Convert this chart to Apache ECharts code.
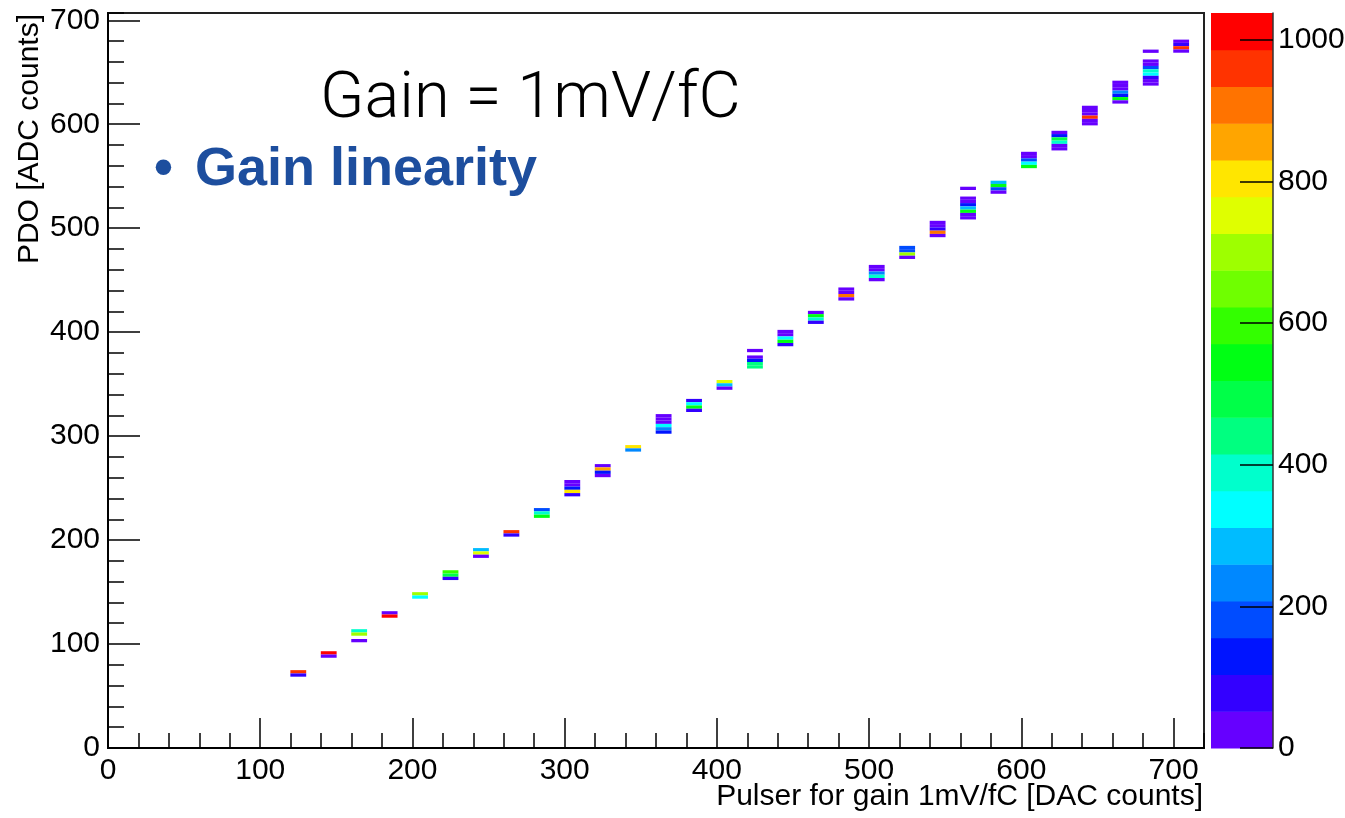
<!DOCTYPE html>
<html><head><meta charset="utf-8">
<script src="https://cdn.jsdelivr.net/npm/echarts@6/dist/echarts.min.js"></script>
<style>html,body{margin:0;padding:0;background:#fff}#chart{width:1345px;height:818px}</style>
</head><body><div id="chart"></div>
<script>
// ---- data ----
const X_CENTERS = [125,145,165,185,205,225,245,265,285,305,325,345,365,385,405,425,445,465,485,505,525,545,565,585,605,625,645,665,685,705];
// upper edge (ADC) of the topmost filled y-bin of each column
const COL_TOPS = [74.9,93.1,114.3,131.6,149.9,171.0,192.3,209.6,230.8,257.8,273.1,291.4,321.2,335.8,354.0,383.9,402.2,420.5,443.0,464.7,483.0,507.1,539.9,545.7,573.5,593.7,617.8,641.9,671.8,681.4];
// bin contents from top to bottom (0 = empty bin)
const COL_COUNTS = [
  [960,80],
  [1010,50],
  [390,700,0,25],
  [25,1010],
  [700,340],
  [600,500,60],
  [290,750,25],
  [960,80],
  [180,390,520],
  [25,25,130,800,80],
  [25,850,130,25],
  [800,230],
  [25,25,25,340,230,130],
  [80,340,540,80],
  [750,290,25],
  [25,0,25,130,440,440],
  [25,25,340,560,80],
  [25,540,380,80],
  [25,25,900,25],
  [25,25,230,390,25],
  [180,180,700,25],
  [25,25,80,910,25],
  [25,0,0,25,25,130,260,560,25,25],
  [290,540,180,25],
  [25,25,180,340,540],
  [25,130,500,390,25,25],
  [25,25,25,960,25,25],
  [25,25,25,230,130,560,25],
  [25,0,0,25,25,180,390,340,80,25,25],
  [25,80,960,25]
];
const Z_MAX = 1038;
const PALETTE = ['#6600ff','#3300ff','#0014ff','#004cff','#0088ff','#00bcff','#00ffff','#00ffcc','#00ff80','#00ff48',
                 '#00ff14','#33ff00','#6fff00','#9eff00','#dfff00','#ffe600','#ffa500','#ff7300','#ff3300','#ff0000'];
const TITLE_MAIN = 'Gain = 1mV/fC';
const TITLE_SUB = 'Gain linearity';
const X_NAME = 'Pulser for gain 1mV/fC [DAC counts]';
const Y_NAME = 'PDO [ADC counts]';

// ---- histogram binning ----
const BIN_H = 3.15, BIN_W = 10.4;
const cells = [];
X_CENTERS.forEach((x, i) => {
  COL_COUNTS[i].forEach((c, j) => {
    if (c > 0) cells.push([x, COL_TOPS[i] - (j + 1) * BIN_H, c]);
  });
});
const step = Z_MAX / PALETTE.length;
const bands = PALETTE.map((c, i) => [i * step, (i + 1) * step, (i + 0.5) * step]);
const pieces = PALETTE.map((c, i) => (i < PALETTE.length - 1 ? {gte: i * step, lt: (i + 1) * step, color: c} : {gte: i * step, color: c}));

const FONT = 'Liberation Sans, Arial, Helvetica, sans-serif';
const lbl = {fontSize: 30, fontFamily: FONT, color: '#000', formatter: v => String(v)};
const tickStyle = {color: '#000', width: 1.5};

const chart = echarts.init(document.getElementById('chart'), null, {renderer: 'canvas'});
chart.setOption({
  animation: false,
  backgroundColor: '#fff',
  grid: [
    {left: 108, top: 13, width: 1096, height: 735, containLabel: false, outerBoundsMode: 'none',
     show: true, borderColor: '#222', borderWidth: 2, backgroundColor: 'transparent'},
    {left: 1211, top: 13, width: 62, height: 735, containLabel: false, outerBoundsMode: 'none'}
  ],
  xAxis: [
    {gridIndex: 0, type: 'value', min: 0, max: 720, interval: 100, position: 'bottom',
     axisLine: {show: true, onZero: false, lineStyle: {color: '#000', width: 2}},
     axisTick: {show: true, inside: true, length: 30, lineStyle: tickStyle},
     axisLabel: Object.assign({margin: 8, showMaxLabel: false}, lbl), splitLine: {show: false}},
    {gridIndex: 0, type: 'value', min: 0, max: 720, interval: 20, position: 'bottom',
     axisLine: {show: false, onZero: false}, axisTick: {show: true, inside: true, length: 15, lineStyle: tickStyle},
     axisLabel: {show: false}, splitLine: {show: false}},
    {gridIndex: 1, type: 'value', min: 0, max: 1, show: false, axisLine: {onZero: false}}
  ],
  yAxis: [
    {gridIndex: 0, type: 'value', min: 0, max: 707, interval: 100, position: 'left',
     axisLine: {show: true, onZero: false, lineStyle: {color: '#000', width: 2}},
     axisTick: {show: true, inside: true, length: 32, lineStyle: tickStyle},
     axisLabel: Object.assign({margin: 8, showMaxLabel: false}, lbl), splitLine: {show: false}},
    {gridIndex: 0, type: 'value', min: 0, max: 707, interval: 20, position: 'left',
     axisLine: {show: false, onZero: false}, axisTick: {show: true, inside: true, length: 16, lineStyle: tickStyle},
     axisLabel: {show: false}, splitLine: {show: false}},
    {gridIndex: 1, type: 'value', min: 0, max: Z_MAX, interval: 200, position: 'right', z: 10,
     axisLine: {show: true, onZero: false, lineStyle: {color: '#333', width: 1.5}},
     axisTick: {show: true, inside: true, length: 33, lineStyle: tickStyle},
     axisLabel: Object.assign({margin: 5, showMaxLabel: false}, lbl), splitLine: {show: false}}
  ],
  visualMap: {type: 'piecewise', show: false, dimension: 2, seriesIndex: [0, 1], pieces: pieces},
  series: [
    {type: 'custom', xAxisIndex: 0, yAxisIndex: 0, data: cells, z: 1,
     renderItem: function (params, api) {
       const x = api.value(0), y = api.value(1);
       const p0 = api.coord([x - BIN_W / 2, y + BIN_H]);
       const p1 = api.coord([x + BIN_W / 2, y]);
       return {type: 'rect', shape: {x: p0[0], y: p0[1], width: p1[0] - p0[0], height: p1[1] - p0[1]},
               style: {fill: api.visual('color')}};
     }},
    {type: 'custom', xAxisIndex: 2, yAxisIndex: 2, data: bands, z: 1,
     renderItem: function (params, api) {
       const p0 = api.coord([0, api.value(1)]);
       const p1 = api.coord([1, api.value(0)]);
       return {type: 'rect', shape: {x: p0[0], y: p0[1], width: p1[0] - p0[0], height: p1[1] - p0[1] + 0.5},
               style: {fill: api.visual('color')}};
     }}
  ],
  graphic: [
    {type: 'text', x: 30, y: 14, rotation: Math.PI / 2,
     style: {text: Y_NAME, font: '30px ' + FONT, fill: '#000', align: 'right', verticalAlign: 'middle', textAlign: 'right', textVerticalAlign: 'middle'}},
    {type: 'text', x: 1203, y: 797,
     style: {text: X_NAME, font: '30px ' + FONT, fill: '#000', align: 'right', verticalAlign: 'middle', textAlign: 'right', textVerticalAlign: 'middle'}},
    {type: 'text', x: 320, y: 101,
     style: {text: TITLE_MAIN, font: '300 65px Roboto, ' + FONT, fill: '#000', align: 'left', verticalAlign: 'middle', textAlign: 'left', textVerticalAlign: 'middle'}},
    {type: 'text', x: 154, y: 170,
     style: {text: '\u2022', font: 'bold 54px ' + FONT, fill: '#1d4e9e', align: 'left', verticalAlign: 'middle', textAlign: 'left', textVerticalAlign: 'middle'}},
    {type: 'text', x: 195, y: 170,
     style: {text: TITLE_SUB, font: 'bold 54px ' + FONT, fill: '#1d4e9e', align: 'left', verticalAlign: 'middle', textAlign: 'left', textVerticalAlign: 'middle'}}
  ]
});
</script></body></html>
